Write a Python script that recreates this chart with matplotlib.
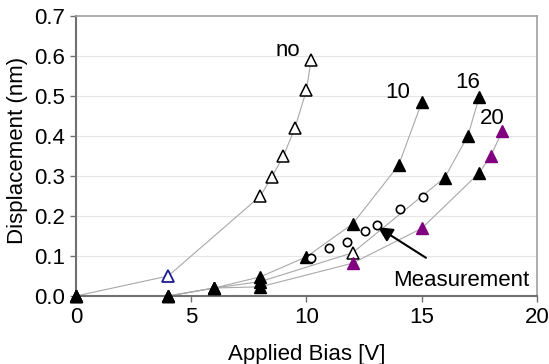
import matplotlib
matplotlib.use('Agg')
import matplotlib.pyplot as plt

plt.rcParams['font.family'] = ['Liberation Sans', 'DejaVu Sans']

# curve "no"
no_x = [0, 4, 8, 8.5, 9, 9.5, 10, 10.2]
no_y = [0, 0.05, 0.25, 0.298, 0.35, 0.42, 0.515, 0.59]

# curve "10"
c10_x = [0, 4, 6, 8, 10, 12, 14, 15]
c10_y = [0, 0, 0.02, 0.048, 0.098, 0.18, 0.327, 0.484]

# curve "16"
c16_x = [0, 4, 6, 8, 12, 16, 17, 17.5]
c16_y = [0, 0, 0.02, 0.036, 0.108, 0.296, 0.40, 0.498]

# curve "20"
c20_x = [0, 4, 6, 8, 12, 15, 17.5, 18, 18.5]
c20_y = [0, 0, 0.02, 0.023, 0.082, 0.169, 0.308, 0.351, 0.412]
c20_purple = [False, False, False, False, True, True, False, True, True]

# measurement points
meas_x = [10.2, 11, 11.75, 12.55, 13.05, 14.05, 15.05]
meas_y = [0.094, 0.12, 0.136, 0.163, 0.178, 0.217, 0.247]

line_col = '#a8a8a8'
purple = '#800080'
navy = '#1c1c90'

fig = plt.figure(figsize=(5.49, 3.64), dpi=100)
ax = fig.add_axes([0.1384, 0.1868, 0.8396, 0.7692])

for y in [0.1, 0.2, 0.3, 0.4, 0.5, 0.6]:
    ax.axhline(y, color='#e6e6e6', lw=0.8, zorder=0)

ax.plot(no_x, no_y, color=line_col, lw=0.8, zorder=1)
ax.plot(c10_x, c10_y, color=line_col, lw=0.8, zorder=1)
ax.plot(c16_x, c16_y, color=line_col, lw=0.8, zorder=1)
ax.plot(c20_x, c20_y, color=line_col, lw=0.8, zorder=1)

ms = 8
# "no": open triangles, first point filled, second navy
ax.plot(no_x[0], no_y[0], '^', color='black', ms=ms, zorder=3)
ax.plot(no_x[1], no_y[1], '^', mfc='white', mec=navy, mew=1.3, ms=ms, zorder=3)
ax.plot(no_x[2:], no_y[2:], '^', ls='none', mfc='white', mec='black', mew=1.1, ms=ms, zorder=3)

ax.plot(c10_x, c10_y, '^', ls='none', color='black', ms=ms, zorder=3)
ax.plot(c16_x[:4], c16_y[:4], '^', ls='none', color='black', ms=ms, zorder=3)
ax.plot(c16_x[4], c16_y[4], '^', mfc='white', mec='black', mew=1.1, ms=ms, zorder=3)
ax.plot(c16_x[5:], c16_y[5:], '^', ls='none', color='black', ms=ms, zorder=3)

for x, y, p in zip(c20_x, c20_y, c20_purple):
    ax.plot(x, y, '^', color=purple if p else 'black', ms=ms, zorder=3)

ax.plot(meas_x, meas_y, 'o', ls='none', mfc='white', mec='black', mew=1.2, ms=6, zorder=4)

fs = 16
ax.text(9.2, 0.615, 'no', fontsize=fs, ha='center', va='center')
ax.text(13.95, 0.51, '10', fontsize=fs, ha='center', va='center')
ax.text(17.0, 0.535, '16', fontsize=fs, ha='center', va='center')
ax.text(18.05, 0.445, '20', fontsize=fs, ha='center', va='center')

ax.annotate('Measurement', xy=(13.1, 0.172), xytext=(16.7, 0.04),
            fontsize=fs, ha='center', va='center',
            arrowprops=dict(arrowstyle='-|>', color='black', lw=1.5,
                            mutation_scale=22, shrinkA=12, shrinkB=0))

ax.set_xlim(0, 20)
ax.set_ylim(0, 0.7)
ax.set_xticks([0, 5, 10, 15, 20])
ax.set_yticks([0, 0.1, 0.2, 0.3, 0.4, 0.5, 0.6, 0.7])
ax.set_yticklabels(['0.0', '0.1', '0.2', '0.3', '0.4', '0.5', '0.6', '0.7'])
ax.tick_params(labelsize=fs, length=4, width=1, color='#707070', pad=4)

for s in ['top', 'right']:
    ax.spines[s].set_color('#a0a0a0')
    ax.spines[s].set_linewidth(1.2)
for s in ['left', 'bottom']:
    ax.spines[s].set_color('#707070')
    ax.spines[s].set_linewidth(1.5)

ax.set_xlabel('Applied Bias [V]', fontsize=fs)
ax.set_ylabel('Displacement (nm)', fontsize=fs)
ax.xaxis.set_label_coords(0.5, -0.172)
ax.yaxis.set_label_coords(-0.105, 0.52)

for l in ax.lines:
    l.set_clip_on(False)

fig.savefig('out.png', dpi=100)
